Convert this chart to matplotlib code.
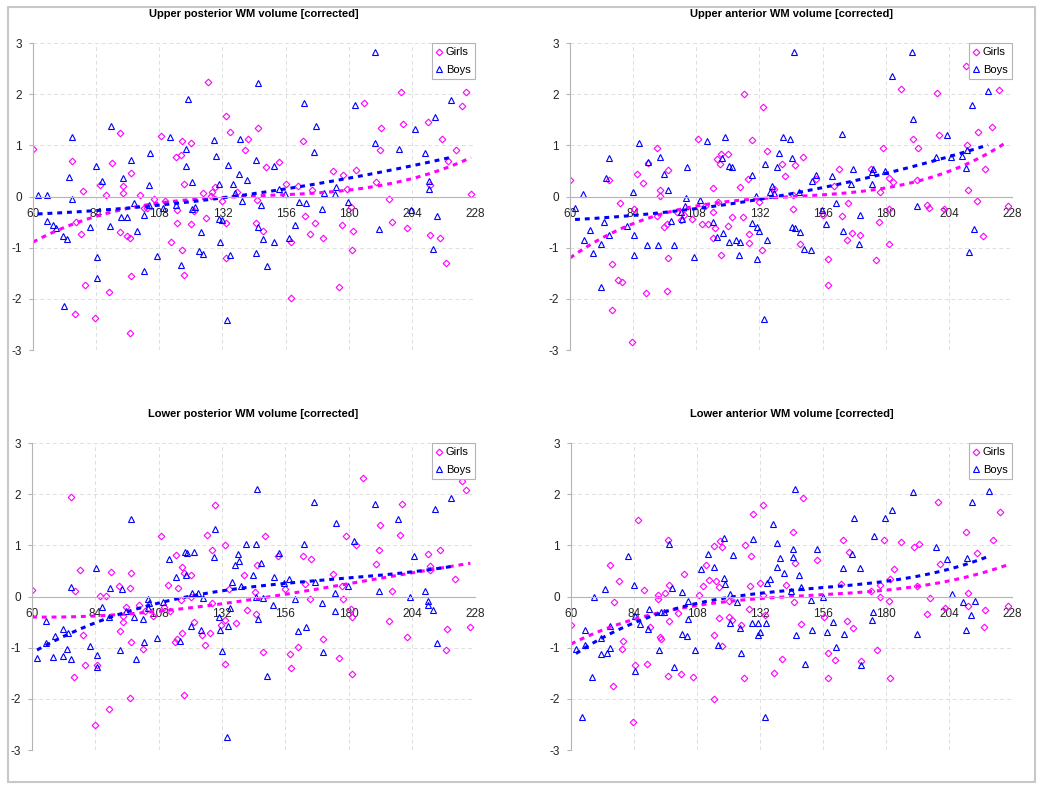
import numpy as np
import matplotlib
matplotlib.use("Agg")
import matplotlib.pyplot as plt
from matplotlib.patches import Rectangle
from matplotlib.lines import Line2D

# (age in months, z-score)
up_post_girls = [(60.0, 0.93), (74.7, 0.69), (76.3, -0.49), (78.1, -0.73), (79.1, 0.10), (79.8, -1.72),
                 (76.0, -2.30), (83.7, -2.38), (85.6, 0.22), (87.9, 0.03), (88.9, -1.87), (89.9, 0.66),
                 (93.1, 1.25), (93.1, -0.70), (94.3, 0.20), (94.3, 0.07), (95.6, -0.78), (97.0, -0.81),
                 (97.2, 0.46), (97.2, -1.55), (97.0, -2.67), (100.5, 0.03), (102.2, -0.23), (103.2, -0.23),
                 (106.1, -0.05), (108.8, 1.18), (110.0, -0.08), (112.5, -0.89), (114.4, 0.78), (114.6, -0.26),
                 (114.6, -0.52), (116.1, 0.81), (116.8, 1.08), (116.6, -1.04), (117.5, 0.24), (117.5, -1.54),
                 (120.1, 1.04), (120.1, -0.54), (121.3, -0.29), (124.6, 0.07), (125.6, -0.42), (126.4, 2.24),
                 (127.8, 0.02), (128.2, 0.08), (129.2, 0.18), (131.8, -0.09), (133.2, 1.57), (133.2, -0.51),
                 (133.2, -1.20), (134.9, 1.26), (137.5, 0.08), (140.5, 0.91), (141.7, 1.12), (144.6, -0.52),
                 (145.0, -0.07), (145.6, 1.34), (147.5, -0.68), (148.4, 0.57), (153.4, 0.67), (156.3, 0.25),
                 (158.1, -0.89), (158.0, -1.98), (160.6, 0.20), (162.6, 1.08), (163.5, -0.38), (165.2, -0.73),
                 (165.9, 0.13), (167.2, -0.51), (170.4, -0.81), (174.2, 0.50), (176.4, -1.77), (177.6, -0.55),
                 (177.8, 0.42), (179.2, 0.15), (181.0, -0.21), (181.5, -0.67), (181.4, -1.05), (182.8, 0.52),
                 (185.7, 1.82), (190.5, 0.28), (191.9, 0.91), (192.3, 1.34), (195.4, -0.05), (196.4, -0.49),
                 (199.9, 2.05), (200.5, 1.42), (202.3, -0.61), (210.3, 1.46), (211.0, 0.22), (211.0, -0.76),
                 (214.7, -0.82), (215.5, 1.12), (217.0, -1.30), (217.6, 0.70), (220.6, 0.91), (223.2, 1.77),
                 (224.6, 2.04), (226.5, 0.05)]
up_post_boys = [(61.8, 0.03), (65.2, 0.03), (65.4, -0.48), (67.7, -0.55), (68.6, -0.61), (71.5, -0.78),
                (72.9, -0.83), (71.7, -2.14), (73.7, 0.38), (74.8, -0.05), (75.0, 1.17), (81.7, -0.59),
                (84.1, 0.59), (84.5, -1.18), (84.5, -1.59), (86.4, 0.31), (89.3, -0.57), (89.6, 1.38),
                (93.4, -0.40), (94.1, 0.37), (95.7, -0.40), (97.4, 0.72), (98.4, -0.12), (99.4, -0.67),
                (102.2, -0.36), (102.2, -1.45), (104.1, 0.22), (104.0, -0.16), (104.6, 0.86), (107.3, -1.16),
                (109.5, -0.23), (112.2, 1.17), (114.4, -0.16), (116.1, -1.33), (118.0, 0.92), (118.2, 0.59),
                (118.9, 1.90), (120.5, 0.29), (120.6, -0.24), (121.6, -0.20), (123.1, -1.06), (124.0, -0.70),
                (124.8, -1.12), (128.9, 1.10), (129.4, 0.80), (130.8, 0.25), (130.7, -0.44), (131.8, -0.46),
                (131.2, -0.88), (133.7, -2.41), (134.2, 0.61), (134.9, -1.15), (135.9, 0.25), (136.8, 0.07),
                (138.2, 0.44), (138.6, 1.12), (139.6, -0.08), (141.3, 0.32), (144.6, 0.71), (144.6, -1.10),
                (145.4, 2.22), (145.7, -0.59), (146.8, -0.16), (147.4, -0.83), (149.1, -1.35), (151.5, -0.89),
                (151.7, 0.59), (153.5, 0.14), (155.8, 0.05), (157.4, -0.82), (159.6, -0.56), (161.0, -0.10),
                (163.1, 1.83), (163.9, -0.12), (166.7, 0.87), (167.4, 1.38), (170.0, -0.24), (170.5, 0.07),
                (174.8, 0.05), (175.3, 0.19), (179.7, -0.10), (182.2, 1.79), (190.0, 2.82), (190.1, 1.04),
                (191.6, -0.63), (199.1, 0.93), (203.5, -0.27), (205.0, 1.31), (209.0, 0.85), (210.6, 0.30),
                (210.6, 0.15), (211.9, -1.02), (212.7, 1.56), (213.7, -0.38), (218.9, 1.88)]

up_ant_girls = [(60.0, 0.33), (74.9, 0.33), (76.1, -1.32), (75.8, -2.22), (79.1, -0.12), (78.2, -1.63),
                (79.9, -1.67), (83.7, -2.85), (84.3, -0.25), (85.6, 0.44), (87.7, 0.27), (88.9, -1.89),
                (89.7, 0.66), (93.0, 0.94), (93.0, -0.39), (94.3, 0.12), (94.3, 0.01), (95.7, -0.59),
                (97.0, -0.53), (97.3, 0.52), (97.3, -1.20), (97.0, -1.84), (100.5, -0.30), (102.2, -0.46),
                (103.4, -0.36), (106.2, -0.43), (108.7, 1.13), (110.1, -0.54), (111.4, -0.19), (112.3, -0.54),
                (114.3, 0.16), (114.3, -0.31), (114.4, -0.81), (115.1, -0.62), (116.0, 0.74), (116.3, -0.10),
                (117.0, 0.63), (117.5, 0.83), (117.5, -1.14), (120.0, 0.84), (120.0, -0.57), (121.4, -0.40),
                (124.7, 0.18), (125.6, -0.40), (126.2, 2.00), (127.6, 0.35), (128.1, -0.73), (128.2, -0.91),
                (129.2, 1.10), (131.9, -0.10), (132.9, -1.04), (133.2, 1.74), (134.8, 0.89), (137.6, 0.14),
                (140.4, 0.63), (141.7, 0.41), (144.6, 0.03), (144.9, -0.25), (145.6, 0.61), (147.5, -0.93),
                (148.4, 0.78), (153.3, 0.35), (156.0, -0.37), (157.9, -1.23), (157.9, -1.72), (160.5, 0.20),
                (162.4, 0.53), (163.4, -0.39), (165.1, -0.85), (165.7, -0.13), (167.2, -0.72), (170.3, -0.76),
                (174.2, 0.54), (176.3, -1.25), (177.5, -0.49), (177.7, 0.08), (179.0, 0.94), (181.3, -0.93),
                (181.3, -0.25), (181.2, 0.36), (182.7, 0.28), (185.6, 2.10), (190.5, 1.12), (191.7, 0.33),
                (192.3, 0.94), (195.5, -0.16), (196.6, -0.23), (199.5, 2.02), (200.4, 1.21), (202.2, -0.25),
                (210.3, 2.56), (211.0, 1.00), (211.2, 0.13), (214.7, -0.08), (215.1, 1.27), (217.0, -0.77),
                (217.7, 0.54), (220.4, 1.36), (223.2, 2.08), (226.3, -0.18)]
up_ant_boys = [(61.9, -0.22), (65.1, 0.05), (65.3, -0.85), (67.7, -0.66), (68.7, -1.10), (71.6, -0.92),
               (71.6, -1.76), (72.9, -0.50), (73.5, 0.37), (74.9, -0.76), (74.9, 0.76), (81.8, -0.57),
               (84.1, 0.08), (84.4, -0.76), (84.4, -1.15), (86.2, 1.04), (89.1, -0.95), (89.6, 0.67),
               (93.4, -0.95), (94.1, 0.78), (95.8, 0.44), (97.3, 0.13), (98.4, -0.47), (99.4, -0.95),
               (102.3, -0.31), (102.4, -0.44), (104.2, -0.03), (103.8, -0.18), (104.6, 0.57), (107.2, -1.18),
               (109.5, -0.07), (112.0, 1.09), (114.3, -0.49), (116.0, -0.80), (117.9, 0.76), (118.3, -0.72),
               (118.9, 1.16), (120.3, 0.60), (121.4, 0.58), (120.4, -0.88), (123.0, -0.85), (124.1, -1.14),
               (124.7, -0.88), (129.0, 0.42), (129.3, -0.51), (130.8, 0.01), (131.0, -1.23), (131.2, -0.59),
               (131.9, -0.67), (133.8, -2.40), (134.2, 0.64), (134.8, -0.85), (135.9, 0.08), (136.8, 0.21),
               (137.7, 0.07), (138.5, 0.57), (139.4, 0.85), (141.0, 1.16), (143.7, 1.13), (144.2, -0.59),
               (144.3, 0.76), (145.2, 2.82), (145.6, -0.61), (147.0, 0.08), (147.5, -0.70), (149.0, -1.02),
               (151.4, -1.04), (151.8, 0.31), (153.4, 0.43), (155.8, -0.26), (157.4, -0.53), (159.6, 0.40),
               (160.9, -0.12), (163.2, 1.23), (163.8, -0.67), (166.9, 0.24), (167.4, 0.53), (170.0, -0.92),
               (170.3, -0.36), (174.6, 0.47), (175.0, 0.53), (174.8, 0.25), (179.6, 0.50), (182.2, 2.35),
               (189.9, 2.82), (190.2, 1.51), (191.7, -0.18), (199.0, 0.78), (203.2, 1.21), (204.7, 0.78),
               (209.0, 0.80), (210.4, 0.55), (210.7, 0.90), (211.8, -1.09), (212.7, 1.79), (213.6, -0.63),
               (218.9, 2.07)]

low_post_girls = [(60.0, 0.13), (74.9, 1.94), (76.3, 0.10), (75.9, -1.57), (78.2, 0.52), (79.2, -0.76),
                  (79.9, -1.34), (83.9, -2.51), (84.5, -1.34), (85.7, 0.01), (88.1, 0.01), (89.0, -2.19),
                  (90.0, 0.48), (93.1, 0.20), (93.3, -0.67), (94.5, -0.38), (94.4, -0.49), (95.7, -0.20),
                  (97.1, 0.16), (97.4, 0.46), (97.4, -0.88), (97.1, -1.99), (100.6, -0.16), (102.1, -1.02),
                  (103.0, -0.29), (105.9, -0.39), (109.0, 1.18), (110.1, -0.21), (111.4, 0.22), (112.5, -0.28),
                  (114.5, 0.81), (114.3, -0.89), (114.8, -0.83), (115.4, 0.16), (116.3, -0.06), (116.7, -0.72),
                  (116.9, 0.57), (117.6, -1.92), (117.6, 0.45), (120.2, 0.42), (120.1, -0.01), (121.5, -0.50),
                  (124.6, -0.76), (125.6, -0.95), (126.2, 1.21), (127.6, -0.71), (128.3, -0.13), (128.3, 0.90),
                  (129.3, 1.79), (131.7, -0.55), (133.0, 1.01), (133.1, -0.45), (133.2, -1.32), (134.8, 0.14),
                  (137.5, -0.51), (140.3, 0.42), (141.6, -0.27), (144.6, 0.08), (145.0, -0.34), (145.4, 0.61),
                  (147.5, -1.08), (148.4, 1.19), (153.4, 0.79), (156.1, 0.15), (157.9, -1.12), (158.0, -1.39),
                  (160.7, -0.98), (162.6, 0.79), (163.5, 0.25), (165.3, -0.04), (165.9, 0.74), (170.3, -0.83),
                  (174.1, 0.44), (176.4, -1.20), (177.4, 0.20), (177.8, -0.04), (179.0, 1.19), (181.1, -0.24),
                  (181.2, -0.40), (181.4, -1.52), (182.7, 1.00), (185.6, 2.32), (190.5, 0.64), (191.7, 0.91),
                  (192.1, 1.40), (195.4, -0.48), (196.5, 0.10), (199.7, 1.21), (200.3, 1.80), (202.2, -0.80),
                  (210.3, 0.83), (210.9, 0.59), (211.0, 0.52), (214.6, 0.91), (216.9, -1.05), (217.5, -0.64),
                  (220.4, 0.35), (223.1, 2.26), (224.5, 2.08), (226.2, -0.59)]
low_post_boys = [(61.9, -1.20), (65.2, -0.47), (65.4, -0.90), (67.8, -1.19), (68.9, -0.78), (71.6, -0.64),
                 (71.8, -1.17), (73.2, -1.02), (73.8, -0.72), (74.9, 0.19), (74.9, -1.22), (81.8, -0.97),
                 (84.2, 0.56), (84.5, -1.14), (84.5, -1.38), (86.4, -0.21), (89.2, -0.40), (89.7, 0.16),
                 (93.5, -1.04), (94.2, 0.15), (95.8, -0.28), (97.6, 1.51), (98.5, -0.41), (99.3, -1.22),
                 (102.1, -0.43), (102.4, -0.89), (104.1, -0.04), (104.4, -0.12), (103.8, -0.23), (107.2, -0.82),
                 (109.6, -0.11), (112.1, 0.74), (114.4, 0.38), (116.1, -0.86), (117.9, 0.87), (118.8, 0.85),
                 (118.2, 0.42), (120.5, 0.07), (120.3, -0.58), (121.5, 0.87), (123.1, 0.07), (124.0, -0.65),
                 (124.8, -0.02), (128.9, 0.78), (129.2, 1.31), (130.9, -0.40), (131.1, -0.65), (131.9, -1.07),
                 (133.9, -2.75), (134.3, -0.57), (134.9, -0.23), (135.9, 0.29), (136.9, 0.61), (138.2, 0.83),
                 (138.6, 0.70), (139.4, 0.20), (141.0, 1.02), (143.6, 0.42), (144.8, 1.03), (144.8, 0.00),
                 (145.3, 2.11), (145.8, -0.44), (147.0, 0.66), (147.7, -0.02), (149.1, -1.56), (151.5, -0.17),
                 (151.6, 0.38), (153.5, 0.85), (155.5, 0.27), (157.3, 0.35), (159.6, -0.04), (161.0, -0.68),
                 (163.2, 1.02), (163.9, -0.59), (166.8, 1.85), (167.4, 0.28), (169.9, -0.12), (170.3, -1.08),
                 (174.7, -0.29), (174.9, 0.06), (175.1, 1.43), (179.8, 0.20), (182.0, 1.08), (190.2, 1.80),
                 (191.6, 0.10), (198.9, 1.51), (203.2, -0.01), (204.7, 0.79), (208.9, 0.11), (210.3, -0.09),
                 (210.3, -0.16), (211.9, -0.26), (212.6, 1.72), (213.6, -0.91), (218.9, 1.93)]

low_ant_girls = [(60.0, -0.55), (75.0, 0.62), (76.2, -0.10), (76.0, -1.75), (78.3, 0.30), (79.3, -1.03),
                 (79.9, -0.87), (83.8, -2.45), (84.5, -1.33), (85.7, 1.50), (87.9, 0.13), (88.9, -1.31),
                 (90.0, -0.60), (93.1, 0.02), (93.2, -0.04), (94.0, -0.80), (94.4, -0.83), (95.8, 0.07),
                 (96.9, 1.10), (97.4, 0.22), (97.4, -0.48), (97.1, -1.55), (100.7, -0.32), (102.0, -1.52),
                 (103.0, 0.44), (106.3, -1.57), (108.8, 0.03), (110.2, 0.20), (111.5, 0.61), (112.5, 0.32),
                 (114.4, 0.99), (114.4, -0.76), (114.4, -2.01), (115.3, 0.30), (116.2, 0.19), (116.5, -0.42),
                 (116.9, 1.09), (117.6, 0.97), (117.7, -0.97), (120.2, -0.08), (120.1, -0.41), (121.5, -0.46),
                 (124.9, -0.56), (125.8, -1.59), (126.3, 1.01), (127.7, -0.25), (128.3, 0.20), (128.5, 0.79),
                 (129.4, 1.61), (132.0, 0.27), (133.2, 0.03), (133.3, 1.79), (133.9, -0.37), (137.5, -1.50),
                 (140.4, -1.23), (141.8, 0.23), (144.4, 1.27), (144.9, -0.10), (145.5, 0.66), (147.6, -0.53),
                 (148.5, 1.93), (153.6, 0.72), (156.4, -0.41), (157.9, -1.11), (158.0, -1.59), (160.7, -1.25),
                 (162.7, 0.25), (163.7, 1.10), (165.2, -0.48), (165.9, 0.87), (167.3, -0.61), (170.4, -1.27),
                 (174.2, 0.10), (176.6, -1.04), (177.8, 0.22), (177.8, 0.00), (179.2, 1.11), (181.2, -0.08),
                 (181.6, 0.35), (181.6, -1.60), (182.9, 0.54), (185.9, 1.06), (190.6, 0.97), (192.0, 0.21),
                 (192.4, 1.02), (195.5, -0.34), (196.6, -0.03), (199.7, 1.85), (200.5, 0.64), (202.4, -0.23),
                 (210.5, 1.27), (211.1, 0.07), (211.3, -0.19), (214.8, 0.86), (217.7, -0.27), (217.2, -0.59),
                 (220.8, 1.10), (223.4, 1.65), (226.5, -0.19)]
low_ant_boys = [(61.9, -1.02), (64.2, -2.36), (65.2, -0.66), (65.5, -0.94), (67.9, -1.57), (68.7, 0.00),
                (71.5, -0.82), (71.5, -1.12), (73.1, 0.14), (73.7, -1.10), (75.0, -0.58), (75.0, -1.00),
                (81.8, 0.79), (84.0, 0.23), (84.5, -0.38), (84.5, -1.45), (86.4, -0.53), (89.3, -0.63),
                (89.7, -0.24), (93.5, -1.05), (94.1, -0.31), (95.6, -0.30), (97.4, 1.03), (98.5, 0.16),
                (99.4, -1.37), (102.3, 0.09), (102.3, -0.74), (104.1, -0.78), (104.5, -0.08), (104.5, -0.44),
                (107.4, -1.05), (109.6, 0.53), (112.1, 0.83), (114.3, 0.58), (115.9, -0.95), (118.1, 0.36),
                (118.4, 1.14), (118.8, 0.25), (120.5, 0.05), (120.6, -0.52), (121.6, 0.82), (123.3, -0.10),
                (124.2, -0.62), (124.9, -1.10), (129.1, -0.51), (129.5, 1.12), (131.1, -0.51), (131.4, -0.76),
                (132.1, -0.70), (134.0, -2.35), (134.4, -0.51), (134.8, 0.27), (135.9, 0.35), (136.8, 1.42),
                (138.4, 0.58), (138.5, 1.05), (139.6, 0.75), (141.1, 0.46), (143.7, 0.11), (144.7, 0.93),
                (144.7, 0.77), (145.3, 2.10), (145.7, -0.75), (147.0, 0.43), (147.7, 0.18), (149.3, -1.32),
                (151.5, -0.07), (151.9, -0.65), (153.6, 0.93), (155.9, -0.01), (157.4, -0.70), (159.8, -0.50),
                (161.1, -0.98), (163.5, 0.56), (164.0, -0.74), (167.0, 0.83), (167.7, 1.54), (170.2, 0.55),
                (170.6, -1.33), (174.7, -0.45), (175.1, -0.31), (175.4, 1.19), (179.7, 1.54), (182.2, 1.70),
                (190.3, 2.05), (191.7, -0.74), (199.1, 0.97), (203.4, 0.73), (205.1, 0.05), (209.4, -0.10),
                (210.6, -0.65), (210.8, 0.75), (212.3, -0.37), (212.9, 1.85), (213.9, -0.08), (219.1, 2.07)]

titles = ["Upper posterior WM volume [corrected]", "Upper anterior WM volume [corrected]",
          "Lower posterior WM volume [corrected]", "Lower anterior WM volume [corrected]"]
panels = [(up_post_girls, up_post_boys), (up_ant_girls, up_ant_boys),
          (low_post_girls, low_post_boys), (low_ant_girls, low_ant_boys)]
x_ticks = [60, 84, 108, 132, 156, 180, 204, 228]
y_ticks = [-3, -2, -1, 0, 1, 2, 3]

GIRL = "#ff00ff"
BOY = "#0000ff"

plt.rcParams['font.family'] = ['Liberation Sans', 'DejaVu Sans']
plt.rcParams['axes.unicode_minus'] = False

fig = plt.figure(figsize=(10.5, 7.88), dpi=100)
fig.patches.append(Rectangle((0.0076, 0.0076), 0.978, 0.9835, transform=fig.transFigure,
                             fill=False, edgecolor="#c8c8c8", lw=1.5))

boxes = [[0.0314, 0.5558, 0.421, 0.3896], [0.5429, 0.5558, 0.421, 0.3896],
         [0.0305, 0.0482, 0.422, 0.3896], [0.5438, 0.0482, 0.420, 0.3896]]

for box, title, (girls, boys) in zip(boxes, titles, panels):
    ax = fig.add_axes(box)
    ax.set_xlim(60, 228)
    ax.set_ylim(-3, 3)
    ax.set_xticks(x_ticks)
    ax.set_yticks(y_ticks)
    ax.grid(True, color="#dedede", linestyle=(0, (4, 3)), lw=0.7)
    ax.set_axisbelow(True)
    for s in ['top', 'right']:
        ax.spines[s].set_visible(False)
    ax.spines['bottom'].set_position(('data', 0))
    ax.spines['bottom'].set_color("#b4b4b4")
    ax.spines['left'].set_color("#b4b4b4")
    ax.tick_params(axis='x', length=0, pad=8, labelsize=8.5, labelcolor="#222222")
    ax.tick_params(axis='y', length=3, color="#b4b4b4", pad=5, labelsize=8.5, labelcolor="#222222")

    for data, col, mk, ms in [(girls, GIRL, 'D', 3.4), (boys, BOY, '^', 4.3)]:
        arr = np.array(data)
        ax.plot(arr[:, 0], arr[:, 1], linestyle='none', marker=mk, ms=ms, mfc='none',
                mec=col, mew=0.8)
    # 3rd order polynomial trend, as in the spreadsheet
    for data, col in [(girls, GIRL), (boys, BOY)]:
        arr = np.array(data)
        coef = np.polyfit(arr[:, 0], arr[:, 1], 3)
        xs = np.linspace(arr[:, 0].min(), arr[:, 0].max(), 200)
        ax.plot(xs, np.polyval(coef, xs), color=col, lw=2.2, linestyle=(0, (1.6, 1.6)))

    ax.set_title(title, fontsize=8, fontweight='bold', pad=19)
    handles = [Line2D([], [], linestyle='none', marker='D', ms=3.4, mfc='none', mec=GIRL, mew=0.8),
               Line2D([], [], linestyle='none', marker='^', ms=4.3, mfc='none', mec=BOY, mew=0.8)]
    leg = ax.legend(handles, ['Girls', 'Boys'], loc='upper right', borderaxespad=0, fontsize=8,
                    handlelength=0.5, handletextpad=0.35, labelspacing=0.65, borderpad=0.4,
                    fancybox=False, framealpha=1)
    leg.get_frame().set_edgecolor("#b4b4b4")
    leg.get_frame().set_linewidth(0.8)

fig.savefig("out.png", dpi=100)
